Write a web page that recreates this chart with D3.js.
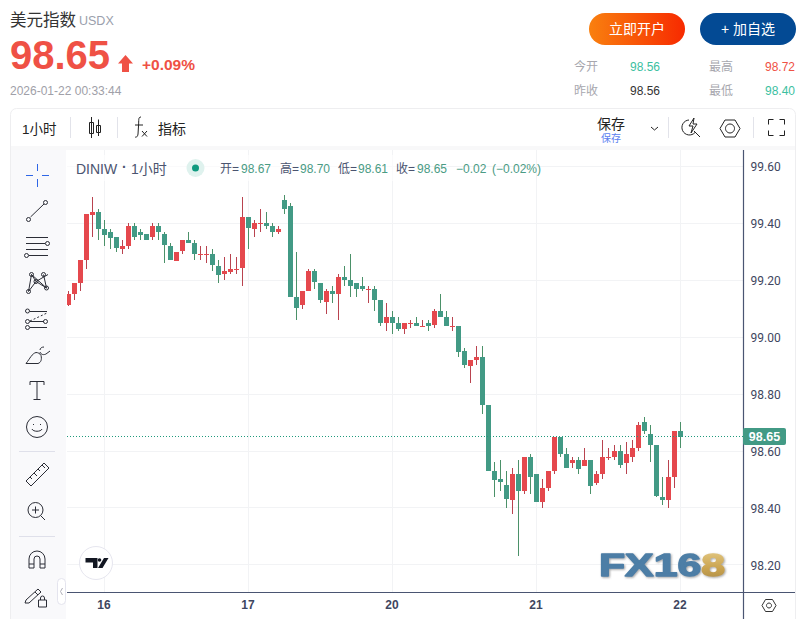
<!DOCTYPE html>
<html><head><meta charset="utf-8">
<script src="https://cdn.jsdelivr.net/npm/d3@7"></script>
<style>html,body{margin:0;padding:0;background:#fff;overflow:hidden}svg{display:block}
text{font-family:"Liberation Sans","Noto Sans CJK SC",sans-serif}</style></head><body>
<svg id="c" width="806" height="619"></svg>
<script>
const opens =[99.11,99.15,99.19,99.27,99.43,99.44,99.38,99.37,99.35,99.31,99.32,99.39,99.37,99.36,99.35,99.39,99.36,99.32,99.27,99.30,99.34,99.33,99.29,99.29,99.29,99.25,99.22,99.23,99.24,99.24,99.42,99.38,99.40,99.40,99.39,99.37,99.48,99.46,99.14,99.11,99.16,99.23,99.19,99.12,99.16,99.15,99.21,99.20,99.19,99.18,99.17,99.17,99.13,99.05,99.07,99.05,99.03,99.05,99.05,99.04,99.05,99.04,99.09,99.07,99.04,99.04,98.95,98.90,98.92,98.93,98.76,98.53,98.50,98.48,98.43,98.52,98.46,98.58,98.52,98.42,98.47,98.53,98.65,98.59,98.56,98.57,98.55,98.57,98.49,98.52,98.58,98.58,98.60,98.56,98.58,98.61,98.70,98.66,98.62,98.44,98.43,98.51,98.67];
const highs =[99.16,99.19,99.27,99.43,99.49,99.45,99.41,99.38,99.35,99.34,99.40,99.40,99.38,99.36,99.40,99.40,99.37,99.33,99.30,99.34,99.37,99.34,99.32,99.32,99.31,99.27,99.28,99.29,99.28,99.49,99.42,99.41,99.45,99.44,99.40,99.39,99.50,99.47,99.30,99.16,99.24,99.24,99.19,99.17,99.18,99.22,99.25,99.29,99.19,99.21,99.18,99.18,99.13,99.12,99.09,99.07,99.05,99.06,99.07,99.06,99.06,99.10,99.15,99.09,99.07,99.04,98.96,98.92,98.97,98.97,98.76,98.56,98.57,98.53,98.54,98.57,98.58,98.59,98.52,98.50,98.53,98.65,98.65,98.61,98.58,98.58,98.61,98.57,98.53,98.64,98.61,98.62,98.62,98.63,98.64,98.70,98.72,98.69,98.62,98.51,98.57,98.67,98.70];
const lows  =[99.11,99.13,99.16,99.24,99.35,99.34,99.32,99.31,99.30,99.29,99.31,99.34,99.34,99.34,99.34,99.34,99.26,99.27,99.27,99.29,99.33,99.27,99.27,99.26,99.23,99.19,99.20,99.22,99.22,99.18,99.31,99.35,99.37,99.38,99.35,99.36,99.43,99.14,99.06,99.10,99.16,99.17,99.12,99.08,99.12,99.06,99.18,99.14,99.14,99.16,99.12,99.09,99.04,99.02,99.01,99.02,99.01,99.03,99.04,99.04,99.02,99.03,99.07,99.04,99.02,98.93,98.89,98.84,98.90,98.73,98.53,98.44,98.46,98.40,98.38,98.23,98.45,98.45,98.42,98.40,98.46,98.52,98.58,98.54,98.54,98.52,98.55,98.45,98.48,98.50,98.57,98.57,98.54,98.52,98.56,98.60,98.66,98.56,98.44,98.41,98.40,98.47,98.61];
const closes=[99.15,99.19,99.27,99.43,99.44,99.38,99.36,99.35,99.31,99.32,99.39,99.35,99.36,99.34,99.39,99.37,99.32,99.27,99.30,99.34,99.33,99.29,99.29,99.29,99.25,99.22,99.23,99.24,99.24,99.42,99.38,99.40,99.40,99.39,99.37,99.38,99.45,99.14,99.10,99.16,99.23,99.19,99.13,99.16,99.15,99.21,99.20,99.18,99.17,99.17,99.17,99.13,99.05,99.07,99.05,99.03,99.05,99.05,99.04,99.04,99.04,99.09,99.07,99.04,99.04,98.95,98.90,98.92,98.93,98.76,98.53,98.50,98.49,98.43,98.52,98.46,98.58,98.51,98.42,98.47,98.53,98.65,98.59,98.54,98.57,98.54,98.57,98.48,98.52,98.58,98.58,98.60,98.55,98.59,98.61,98.69,98.67,98.62,98.44,98.43,98.51,98.67,98.65];
const priceTicks=[99.6,99.4,99.2,99.0,98.8,98.6,98.4,98.2];
const dateTickIndex=[6,30,54,78,102];
const dateTickLabels=["16","17","20","21","22"];
const lastPrice=98.65;
const UP="#e5484d",DOWN="#429a85",UPW="#b9434f",DOWNW="#4b9169";

const svg=d3.select("#c");
const n=opens.length;
const x=d3.scaleLinear().domain([0,n-1]).range([68.5,680.5]);
const y=d3.scaleLinear().domain([99.4,99.0]).range([223,337]);
const T=(t,xx,yy,size,fill,o={})=>svg.append("text").attr("x",xx).attr("y",yy).attr("font-size",size).attr("fill",fill)
  .attr("text-anchor",o.anchor||"start").attr("font-weight",o.weight||400).text(t);

const defs=svg.append("defs");
const g1=defs.append("linearGradient").attr("id","btn");
g1.append("stop").attr("offset","0").attr("stop-color","#f9800f");
g1.append("stop").attr("offset","1").attr("stop-color","#f72a00");
const g2=defs.append("linearGradient").attr("id","gold").attr("x1",0).attr("y1",0).attr("x2",0).attr("y2",1);
g2.append("stop").attr("offset","0").attr("stop-color","#e6cc88");
g2.append("stop").attr("offset","0.6").attr("stop-color","#c9a24e");
g2.append("stop").attr("offset","1").attr("stop-color","#a88a4a");
const sh=defs.append("filter").attr("id","wmshadow").attr("x","-5%").attr("y","-10%").attr("width","110%").attr("height","130%");
sh.append("feDropShadow").attr("dx",1).attr("dy",1).attr("stdDeviation",0.8).attr("flood-color","#555").attr("flood-opacity",.55);
defs.append("clipPath").attr("id","plot").append("rect").attr("x",67).attr("y",150).attr("width",676).attr("height",442);

// header
T("美元指数",10,26,16.5,"#333");
T("USDX",79,25,12.5,"#9aa0ac");
T("98.65",10,69,40,"#ef5145",{weight:700});
svg.append("path").attr("d","M125.5 55 L133 63.5 L129 63.5 L129 72 L122 72 L122 63.5 L118 63.5 Z").attr("fill","#ef5145");
T("+0.09%",142,70,15.5,"#ef5145",{weight:700});
T("2026-01-22 00:33:44",10,95,12,"#a0a0a8");
svg.append("rect").attr("x",589).attr("y",13).attr("width",96).attr("height",32).attr("rx",16).attr("fill","url(#btn)");
T("立即开户",637,34,14,"#fff",{anchor:"middle"});
svg.append("rect").attr("x",700).attr("y",13).attr("width",96).attr("height",32).attr("rx",16).attr("fill","#034a94");
T("+ 加自选",748,34,14,"#fff",{anchor:"middle"});
[["今开",574,71,"98.56",630,"#3cbf9f"],["最高",709,71,"98.72",765,"#ef5145"],["昨收",574,95,"98.56",630,"#333"],["最低",709,95,"98.40",765,"#3cbf9f"]].forEach(r=>{
  T(r[0],r[1],r[2],12,"#a7a7ae"); T(r[3],r[4],r[2],12,r[5]);
});

// card
svg.append("rect").attr("x",10.5).attr("y",108.5).attr("width",785).attr("height",530).attr("rx",6).attr("fill","#fff").attr("stroke","#eeeef0");
svg.append("rect").attr("x",11).attr("y",146).attr("width",784).attr("height",4).attr("fill","#f8f8f9");
svg.append("rect").attr("x",11).attr("y",150).attr("width",55).attr("height",469).attr("fill","#f9f9fb");
// toolbar
T("1小时",22,134,13.5,"#222");
[70.5,117.5,668.5,753.5].forEach(v=>svg.append("line").attr("x1",v).attr("x2",v).attr("y1",117).attr("y2",138).attr("stroke","#e2e3ea"));
const ic=svg.append("g").attr("fill","none").attr("stroke","#222").attr("stroke-width",1);
ic.append("path").attr("d","M91.500 117V138M89.500 122.500h4v11h-4zM98.500 119.500V136M96.500 125.500h4v7h-4z");
ic.append("path").attr("d","M141 117c-3 0-2 3-2.500 9l-.5 8c-.3 3-2 3.500-3 3M135 125h8M142 131l5 5.500M147 131l-5 5.500");
T("指标",158,134,14,"#222");
T("保存",611,129,14,"#222",{anchor:"middle"});
T("保存",611,142,10,"#5b7ff0",{anchor:"middle"});
ic.append("path").attr("d","M651 127l3.500 3 3.500-3");
ic.append("path").attr("d","M689 120a7.500 7.500 0 1 0 6 12.500M694 131l6 6M694 118l-5 8h4l-2 7 6-9h-4z");
ic.append("path").attr("d","M720 128.500l5-8.500h10l5 8.500-5 8.500h-10zM730 124a4.500 4.500 0 1 0 .01 0z");
ic.append("path").attr("d","M768.500 124.500v-5h5M779.500 119.500h5v5M784.500 130.500v5h-5M773.500 135.500h-5v-5");

// grid and plot
const snap=v=>Math.floor(v)+.5;
const plot=svg.append("g");
plot.append("g").selectAll("line").data(priceTicks).join("line").attr("x1",67).attr("x2",743).attr("y1",d=>snap(y(d))).attr("y2",d=>snap(y(d))).attr("stroke","#f2f3f5");
plot.append("g").selectAll("line").data(dateTickIndex).join("line").attr("x1",d=>x(d)).attr("x2",d=>x(d)).attr("y1",150).attr("y2",592).attr("stroke","#f2f3f5");

// watermark
const wm=svg.append("text").attr("x",599).attr("y",576).attr("font-size",31).attr("font-weight",700).attr("fill","#4d7ea6").attr("stroke","#4d7ea6").attr("stroke-width",1.4)
  .attr("stroke-linejoin","round").attr("textLength",126).attr("lengthAdjust","spacingAndGlyphs").attr("filter","url(#wmshadow)");
wm.append("tspan").text("FX16");
wm.append("tspan").attr("fill","url(#gold)").attr("stroke","url(#gold)").text("8");

const candles=plot.append("g").attr("clip-path","url(#plot)");
const idx=d3.range(n);
const isUp=i=>closes[i]>=opens[i];
candles.selectAll("line").data(idx).join("line")
  .attr("x1",i=>x(i)).attr("x2",i=>x(i)).attr("y1",i=>Math.round(y(highs[i]))).attr("y2",i=>Math.round(y(lows[i])))
  .attr("stroke",i=>isUp(i)?UPW:DOWNW);
candles.selectAll("rect").data(idx).join("rect")
  .attr("x",i=>x(i)-2.5).attr("width",5)
  .attr("y",i=>Math.round(y(Math.max(opens[i],closes[i]))))
  .attr("height",i=>Math.max(1,Math.round(Math.abs(y(opens[i])-y(closes[i])))))
  .attr("fill",i=>isUp(i)?UP:DOWN);

// last price line
plot.append("line").attr("x1",67).attr("x2",743).attr("y1",snap(y(lastPrice))).attr("y2",snap(y(lastPrice))).attr("stroke","#1f9a7c").attr("stroke-dasharray","1 2");

// axes
const yAxis=d3.axisRight(y).tickValues(priceTicks).tickFormat(d3.format(".2f")).tickSize(0).tickPadding(7).offset(0);
const ya=svg.append("g").attr("transform","translate(743.5,1)").call(yAxis);
ya.select(".domain").remove();
ya.selectAll("text").attr("font-size",12).attr("fill","#3e4660").style("font-family","Roboto");
const xAxis=d3.axisBottom(x).tickValues(dateTickIndex).tickFormat((d,i)=>dateTickLabels[i]).tickSize(0).tickPadding(8).offset(0);
const xa=svg.append("g").attr("transform","translate(-0.5,592)").call(xAxis);
xa.select(".domain").remove();
xa.selectAll("text").attr("font-size",12).attr("font-weight",700).attr("fill","#3e4660");
svg.append("line").attr("x1",743.5).attr("x2",743.5).attr("y1",150).attr("y2",619).attr("stroke","#4a5572").attr("stroke-width",1.2);
svg.append("line").attr("x1",67).attr("x2",795).attr("y1",592.5).attr("y2",592.5).attr("stroke","#4a5572").attr("stroke-width",1.2);
// price badge
svg.append("rect").attr("x",743).attr("y",428).attr("width",43).attr("height",17).attr("rx",2).attr("fill","#429a85");
T("98.65",764.5,441,12.5,"#fff",{anchor:"middle",weight:700});

// legend
svg.append("rect").attr("x",67).attr("y",155).attr("width",345).attr("height",26).attr("fill","#fff").attr("opacity",.6);
T("DINIW",76,174,14,"#4b5470");
T("·",122,172,14,"#4b5470",{weight:700});
T("1小时",131,174,14,"#4b5470");
svg.append("circle").attr("cx",195.5).attr("cy",168).attr("r",9).attr("fill","#dff2ee");
svg.append("circle").attr("cx",195.5).attr("cy",168).attr("r",3.5).attr("fill","#0f9a7f");
[["开=","98.67"],["高=","98.70"],["低=","98.61"],["收=","98.65"]].forEach((p,i)=>{
  T(p[0],[220,280,338,396][i],173,12,"#4b5470");
  T(p[1],[241,300,358,417][i],173,12,"#4a9b84");
});
T("−0.02",456,173,12,"#4a9b84");
T("(−0.02%)",492,173,12,"#4a9b84");

// left tools
const lt=svg.append("g").attr("fill","none").attr("stroke","#2b2d36").attr("stroke-width",1);
svg.append("path").attr("d","M37.500 164v7M37.500 179v8M26 175.500h7M42 175.500h7").attr("stroke","#2f66e6").attr("stroke-width",1).attr("fill","none");
lt.append("path").attr("d","M30.500 217L44 204");
[[28.500,219.500],[45.500,202.500]].forEach(c=>lt.append("circle").attr("cx",c[0]).attr("cy",c[1]).attr("r",2));
lt.append("path").attr("d","M26 237.500h22M26 243.500h19M26 249.500h22M29 255.500h19");
[[47.500,243.500],[26.500,255.500]].forEach(c=>lt.append("circle").attr("cx",c[0]).attr("cy",c[1]).attr("r",2));
lt.append("path").attr("d","M28.500 291.500L31.500 274.500L46.500 288M31.500 274.500L36 281.500L46.500 288M48 274.500L36 281.500L28.500 291.500M43.500 274.500L46.500 288");
[[28.500,291.500],[31.500,274.500],[36,281.500],[43.500,274.500],[46.500,288]].forEach(c=>lt.append("circle").attr("cx",c[0]).attr("cy",c[1]).attr("r",2));
lt.append("path").attr("d","M30 311.500h17M30 321.500h14M30 327.500h17");
lt.append("path").attr("d","M30 321l17-8").attr("stroke-dasharray","2 2");
[[27.500,311],[27.500,321.500],[27.500,327.500],[45.500,321.500]].forEach(c=>lt.append("circle").attr("cx",c[0]).attr("cy",c[1]).attr("r",2));
lt.append("path").attr("d","M26 363.500h12c3-1 4-4 3-8-1-2-3-3-5-3-4 1-6 6-10 11zM40 352c1 3 4 3 6 2l4-3M40 350c0-2 2-3 4-3");
lt.append("path").attr("d","M30 385v-3.500h14v3.500M37 381.500v18M33.500 399.500h7");
lt.append("circle").attr("cx",37).attr("cy",427).attr("r",10.500);
lt.append("path").attr("d","M32 429c1 3 9 3 10 0M33.500 424v1M40.500 424v1");
[[451.500],[536.500]].forEach(v=>svg.append("line").attr("x1",19).attr("x2",55).attr("y1",v[0]).attr("y2",v[0]).attr("stroke","#dfe0ea"));
lt.append("path").attr("d","M26 481l18-18 5 5-18 18zM30 477l2 2M34 473l3 3M38 469l2 2M42 465l3 3");
lt.append("circle").attr("cx",35.500).attr("cy",510).attr("r",7.500);
lt.append("path").attr("d","M41 516l4 4M32 510h7M35.500 506.500v7");
lt.append("path").attr("d","M29 568v-9a8 8 0 0 1 16 0v9h-5v-9a3 3 0 0 0-6 0v9zM29 564h5M40 564h5");
lt.append("path").attr("d","M26 600l12-11 3 3-12 11h-4zM35 592l3 3");
lt.append("path").attr("d","M38.500 600h8v7h-8zM40.500 600v-2a2 2 0 0 1 4 0v2");
svg.append("rect").attr("x",57.500).attr("y",578.500).attr("width",8).attr("height",26).attr("rx",4).attr("fill","#fff").attr("stroke","#e4e4ee");
svg.append("path").attr("d","M62.500 588l-2 3.500 2 3.500").attr("stroke","#b0b0ba").attr("fill","none");

// tv logo
svg.append("circle").attr("cx",96).attr("cy",563).attr("r",16.500).attr("fill","#fff").attr("stroke","#e6e6ef");
svg.append("path").attr("d","M85.500 558h12v10h-4.500v-5.500h-7.500zM98 568l6-10h4.500l-6 10z").attr("fill","#131722");
svg.append("circle").attr("cx",99.500).attr("cy",560).attr("r",1.800).attr("fill","#131722");

// settings hex at bottom right
svg.append("path").attr("d","M762 605.500l3.500-6h7l3.500 6-3.500 6h-7zM769 603a2.500 2.500 0 1 0 .01 0z").attr("fill","none").attr("stroke","#333");
</script></body></html>
